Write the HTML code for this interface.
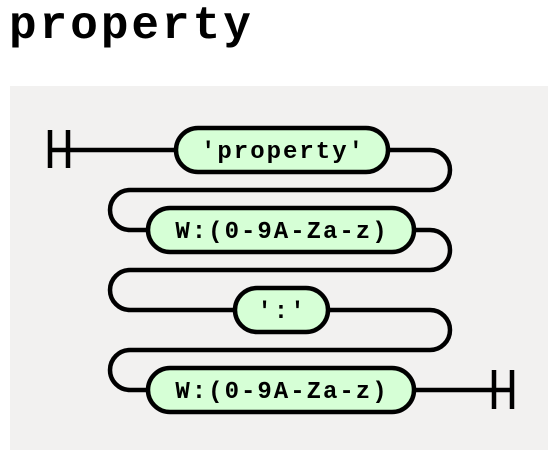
<!DOCTYPE html>
<html><head><style>
body{margin:0;background:#fff;width:558px;height:458px;overflow:hidden}
.t{position:absolute;left:9px;top:0px;font:bold 46px "Liberation Mono",monospace;letter-spacing:3px;color:#000}
</style></head><body>
<div class="t">property</div>
<svg width="558" height="458" style="position:absolute;left:0;top:0">
<rect x="10" y="86" width="538" height="364" fill="#f2f1f0"/>
<g fill="none" stroke="#000" stroke-width="4.5">
<path d="M50 130V168M68 130V168M50 150H176"/>
<path d="M388 150H430a20 20 0 0 1 0 40H130a20 20 0 0 0 0 40H148"/>
<path d="M414 230H430a20 20 0 0 1 0 40H130a20 20 0 0 0 0 40H235"/>
<path d="M328 310H430a20 20 0 0 1 0 40H130a20 20 0 0 0 0 40H148"/>
<path d="M414 390H512M494 370V409M512 370V409"/>
</g>
<g fill="#d6ffd6" stroke="#000" stroke-width="4.5">
<rect x="176" y="128" width="212" height="44" rx="22"/>
<rect x="148" y="208" width="266" height="44" rx="22"/>
<rect x="235" y="288" width="93" height="44" rx="22"/>
<rect x="148" y="368" width="266" height="44" rx="22"/>
</g>
<g font-family="Liberation Mono,monospace" font-weight="bold" font-size="24" letter-spacing="2" text-anchor="middle">
<text x="283" y="158">'property'</text>
<text x="282" y="238">W:(0-9A-Za-z)</text>
<text x="282" y="318">':'</text>
<text x="282" y="398">W:(0-9A-Za-z)</text>
</g>
</svg>
</body></html>
